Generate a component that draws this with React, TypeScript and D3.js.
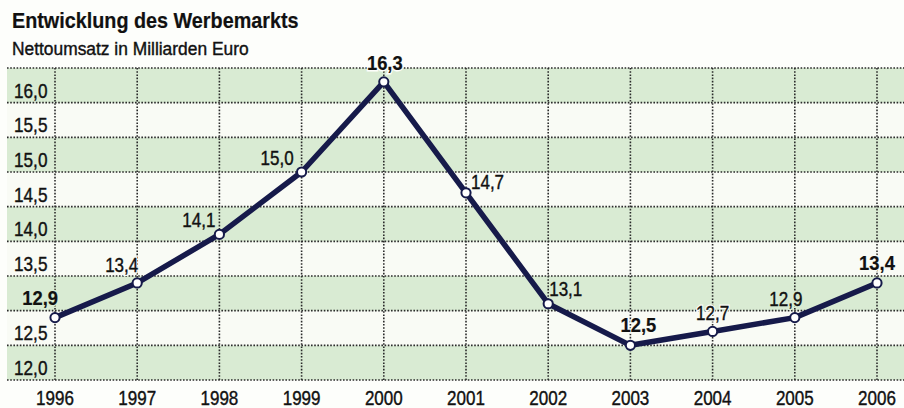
import React from "react";
import * as d3 from "d3";

const title = "Entwicklung des Werbemarkts";
const subtitle = "Nettoumsatz in Milliarden Euro";
const years = [1996, 1997, 1998, 1999, 2000, 2001, 2002, 2003, 2004, 2005, 2006];
const values = [12.9, 13.4, 14.1, 15.0, 16.3, 14.7, 13.1, 12.5, 12.7, 12.9, 13.4];
const valueLabels = ["12,9", "13,4", "14,1", "15,0", "16,3", "14,7", "13,1", "12,5", "12,7", "12,9", "13,4"];
const boldLabels = [true, false, false, false, true, false, false, true, false, false, true];
const yTickValues = [12.0, 12.5, 13.5, 14.0, 14.5, 15.0, 15.5, 16.0];
const yTickLabels = ["12,0", "12,5", "13,5", "14,0", "14,5", "15,0", "15,5", "16,0"];
const yBandStarts = [12.0, 12.5, 13.0, 13.5, 14.0, 14.5, 15.0, 15.5, 16.0];

// label placement (style, not data)
const labelPlace: { anchor: string; dx: number; dy: number }[] = [
  { anchor: "end", dx: 3, dy: -13 },
  { anchor: "end", dx: 1, dy: -11 },
  { anchor: "end", dx: -4, dy: -7 },
  { anchor: "end", dx: -8, dy: -7 },
  { anchor: "middle", dx: 1, dy: -12 },
  { anchor: "start", dx: 5, dy: -4 },
  { anchor: "start", dx: 1, dy: -8 },
  { anchor: "middle", dx: 8, dy: -13 },
  { anchor: "middle", dx: 0, dy: -11 },
  { anchor: "middle", dx: -9, dy: -12 },
  { anchor: "middle", dx: 0, dy: -13 },
];

const W = 904;
const H = 408;
const FONT = "'Liberation Sans', Arial, sans-serif";
const GREEN = "#d9ebd3";
const LIGHT = "#f9fbf5";
const LINE = "#161a4a";
const GRID = "#2b2b2b";
const INK = "#111";

function T(props: {
  x: number;
  y: number;
  sx: number;
  size: number;
  bold?: boolean;
  anchor?: string;
  halo?: string;
  children: React.ReactNode;
}) {
  const { x, y, sx, size, bold, anchor, halo, children } = props;
  const common = {
    transform: `translate(${x},${y}) scale(${sx},1)`,
    fontSize: size,
    fontWeight: bold ? 700 : 400,
    textAnchor: anchor || "start",
  };
  return (
    <g>
      {halo ? (
        <text {...common} fill={halo} stroke={halo} strokeWidth={3}>
          {children}
        </text>
      ) : null}
      <text {...common} fill={INK} stroke={INK} strokeWidth={bold ? 0.2 : 0.4}>
        {children}
      </text>
    </g>
  );
}

export default function App() {
  const x = d3.scaleLinear().domain([1996, 2006]).range([55, 877]);
  const y = d3.scaleLinear().domain([12, 16.5]).range([380, 68]);
  const line = d3
    .line<number>()
    .x((_, i) => x(years[i]))
    .y((d) => y(d));
  const gridLevels = d3.range(12, 16.51, 0.5);

  return (
    <svg
      width={W}
      height={H}
      style={{ position: "absolute", left: 0, top: 0, background: "#ffffff" }}
      fontFamily={FONT}
    >
      <rect x={0} y={0} width={W} height={H} fill="#fdfefb" />
      {yBandStarts.map((v, i) => (
        <rect
          key={"b" + i}
          x={7}
          y={y(v + 0.5)}
          width={W - 7}
          height={y(v) - y(v + 0.5)}
          fill={i % 2 === 0 ? GREEN : LIGHT}
        />
      ))}
      {gridLevels.map((v, i) => (
        <line
          key={"h" + i}
          x1={7}
          x2={W}
          y1={y(v)}
          y2={y(v)}
          stroke={GRID}
          strokeWidth={1.6}
          strokeDasharray="1.6,1.6"
        />
      ))}
      {years.map((yr) => (
        <line
          key={"v" + yr}
          x1={x(yr)}
          x2={x(yr)}
          y1={y(16.5)}
          y2={y(12)}
          stroke={GRID}
          strokeWidth={1.6}
          strokeDasharray="1.6,1.6"
        />
      ))}
      {yTickValues.map((v, i) => (
        <T key={"t" + i} x={14} y={y(v) - 5} sx={0.86} size={20}>
          {yTickLabels[i]}
        </T>
      ))}
      {years.map((yr) => (
        <T key={"yl" + yr} x={x(yr)} y={405} sx={0.83} size={20.5} anchor="middle">
          {yr}
        </T>
      ))}
      <path
        d={line(values) || ""}
        fill="none"
        stroke={LINE}
        strokeWidth={5.5}
        strokeLinejoin="round"
        strokeLinecap="round"
      />
      {values.map((v, i) => (
        <circle
          key={"c" + i}
          cx={x(years[i])}
          cy={y(v)}
          r={4.6}
          fill="#ffffff"
          stroke={LINE}
          strokeWidth={2}
        />
      ))}
      {values.map((v, i) => {
        const p = labelPlace[i];
        const ly = y(v) + p.dy;
        const band = Math.floor((y.invert(ly - 6) - 12) / 0.5);
        const halo = ly - 6 < y(16.5) ? "#fdfefb" : band % 2 === 0 ? GREEN : LIGHT;
        const b = boldLabels[i];
        return (
          <T
            key={"l" + i}
            x={x(years[i]) + p.dx}
            y={ly}
            sx={b ? 0.92 : 0.85}
            size={20}
            bold={b}
            anchor={p.anchor}
            halo={halo}
          >
            {valueLabels[i]}
          </T>
        );
      })}
      <T x={12} y={28} sx={0.9} size={22} bold>
        {title}
      </T>
      <T x={12} y={55} sx={0.94} size={18.5}>
        {subtitle}
      </T>
    </svg>
  );
}
